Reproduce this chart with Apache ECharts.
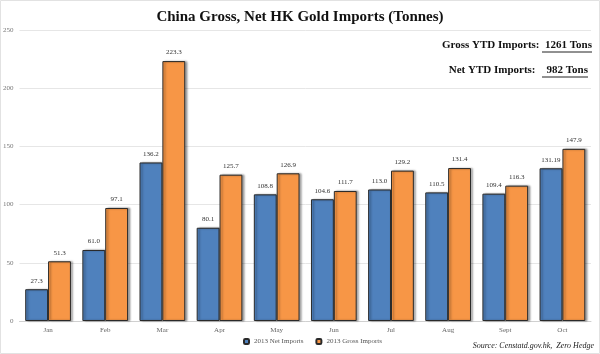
<!DOCTYPE html>
<html><head><meta charset="utf-8">
<script src="https://cdn.jsdelivr.net/npm/echarts@6/dist/echarts.min.js"></script>
<style>html,body{margin:0;padding:0;background:#fff}#c{width:600px;height:354px}</style>
</head><body><div id="c"></div>
<script>
const categories = ['Jan','Feb','Mar','Apr','May','Jun','Jul','Aug','Sept','Oct'];
const netImports = [27.3, 61.0, 136.2, 80.1, 108.8, 104.6, 113.0, 110.5, 109.4, 131.19];
const netLabels = ['27.3','61.0','136.2','80.1','108.8','104.6','113.0','110.5','109.4','131.19'];
const grossImports = [51.3, 97.1, 223.3, 125.7, 126.9, 111.7, 129.2, 131.4, 116.3, 147.9];
const grossLabels = ['51.3','97.1','223.3','125.7','126.9','111.7','129.2','131.4','116.3','147.9'];
const yTicks = [0, 50, 100, 150, 200, 250];

const serif = '"Liberation Serif", "DejaVu Serif", serif';
const chart = echarts.init(document.getElementById('c'));
const barStyle = (color) => ({
  color: color, borderColor: '#2a2a2a', borderWidth: 1,
  shadowColor: 'rgba(0,0,0,0.35)', shadowBlur: 2, shadowOffsetX: 2, shadowOffsetY: 0
});
chart.setOption({
  animation: false,
  title: {
    text: 'China Gross, Net HK Gold Imports (Tonnes)', left: 'center', top: 5,
    textStyle: { fontFamily: serif, fontWeight: 'bold', fontSize: 15, color: '#111' }
  },
  legend: {
    bottom: 4, left: 238, itemWidth: 5, itemHeight: 5, itemGap: 12,
    textStyle: { fontFamily: serif, fontSize: 7, color: '#555' },
    data: ['2013 Net Imports', '2013 Gross Imports']
  },
  grid: { left: 19, right: 9, top: 30, bottom: 33, containLabel: false },
  xAxis: {
    type: 'category', data: categories,
    axisLine: { lineStyle: { color: '#d0d0d0' } }, axisTick: { show: false },
    axisLabel: { fontFamily: serif, fontSize: 7, color: '#666', margin: 6 }
  },
  yAxis: {
    type: 'value', min: yTicks[0], max: yTicks[yTicks.length - 1], interval: 50,
    axisLine: { show: false }, axisTick: { show: false },
    axisLabel: { fontFamily: serif, fontSize: 7, color: '#777', margin: 6 },
    splitLine: { lineStyle: { color: '#e6e6e6' } }
  },
  series: [
    { name: '2013 Net Imports', type: 'bar', data: netImports, barGap: '0%', barCategoryGap: '20%',
      itemStyle: barStyle('#4F81BD'),
      label: { show: true, position: 'top', distance: 5, fontFamily: serif, fontSize: 7, color: '#333',
        formatter: p => netLabels[p.dataIndex] } },
    { name: '2013 Gross Imports', type: 'bar', data: grossImports,
      itemStyle: barStyle('#F79646'),
      label: { show: true, position: 'top', distance: 5, fontFamily: serif, fontSize: 7, color: '#333',
        formatter: p => grossLabels[p.dataIndex] } }
  ],
  graphic: [
    { type: 'text', right: 8, top: 40, style: { text: 'Gross YTD Imports:  1261 Tons', font: 'bold 11px ' + serif, fill: '#111' } },
    { type: 'text', right: 12, top: 65, style: { text: 'Net YTD Imports:    982 Tons', font: 'bold 11px ' + serif, fill: '#111' } },
    { type: 'line', shape: { x1: 542, y1: 52, x2: 592, y2: 52 }, style: { stroke: '#222', lineWidth: 1 } },
    { type: 'line', shape: { x1: 542, y1: 77, x2: 588, y2: 77 }, style: { stroke: '#222', lineWidth: 1 } },
    { type: 'text', right: 6, bottom: 4, style: { text: 'Source: Censtatd.gov.hk,  Zero Hedge', font: 'italic 8px ' + serif, fill: '#222' } },
    { type: 'rect', shape: { x: 0.5, y: 0.5, width: 599, height: 353 }, style: { fill: 'none', stroke: '#e2e2e2', lineWidth: 1 } }
  ]
});
</script></body></html>
